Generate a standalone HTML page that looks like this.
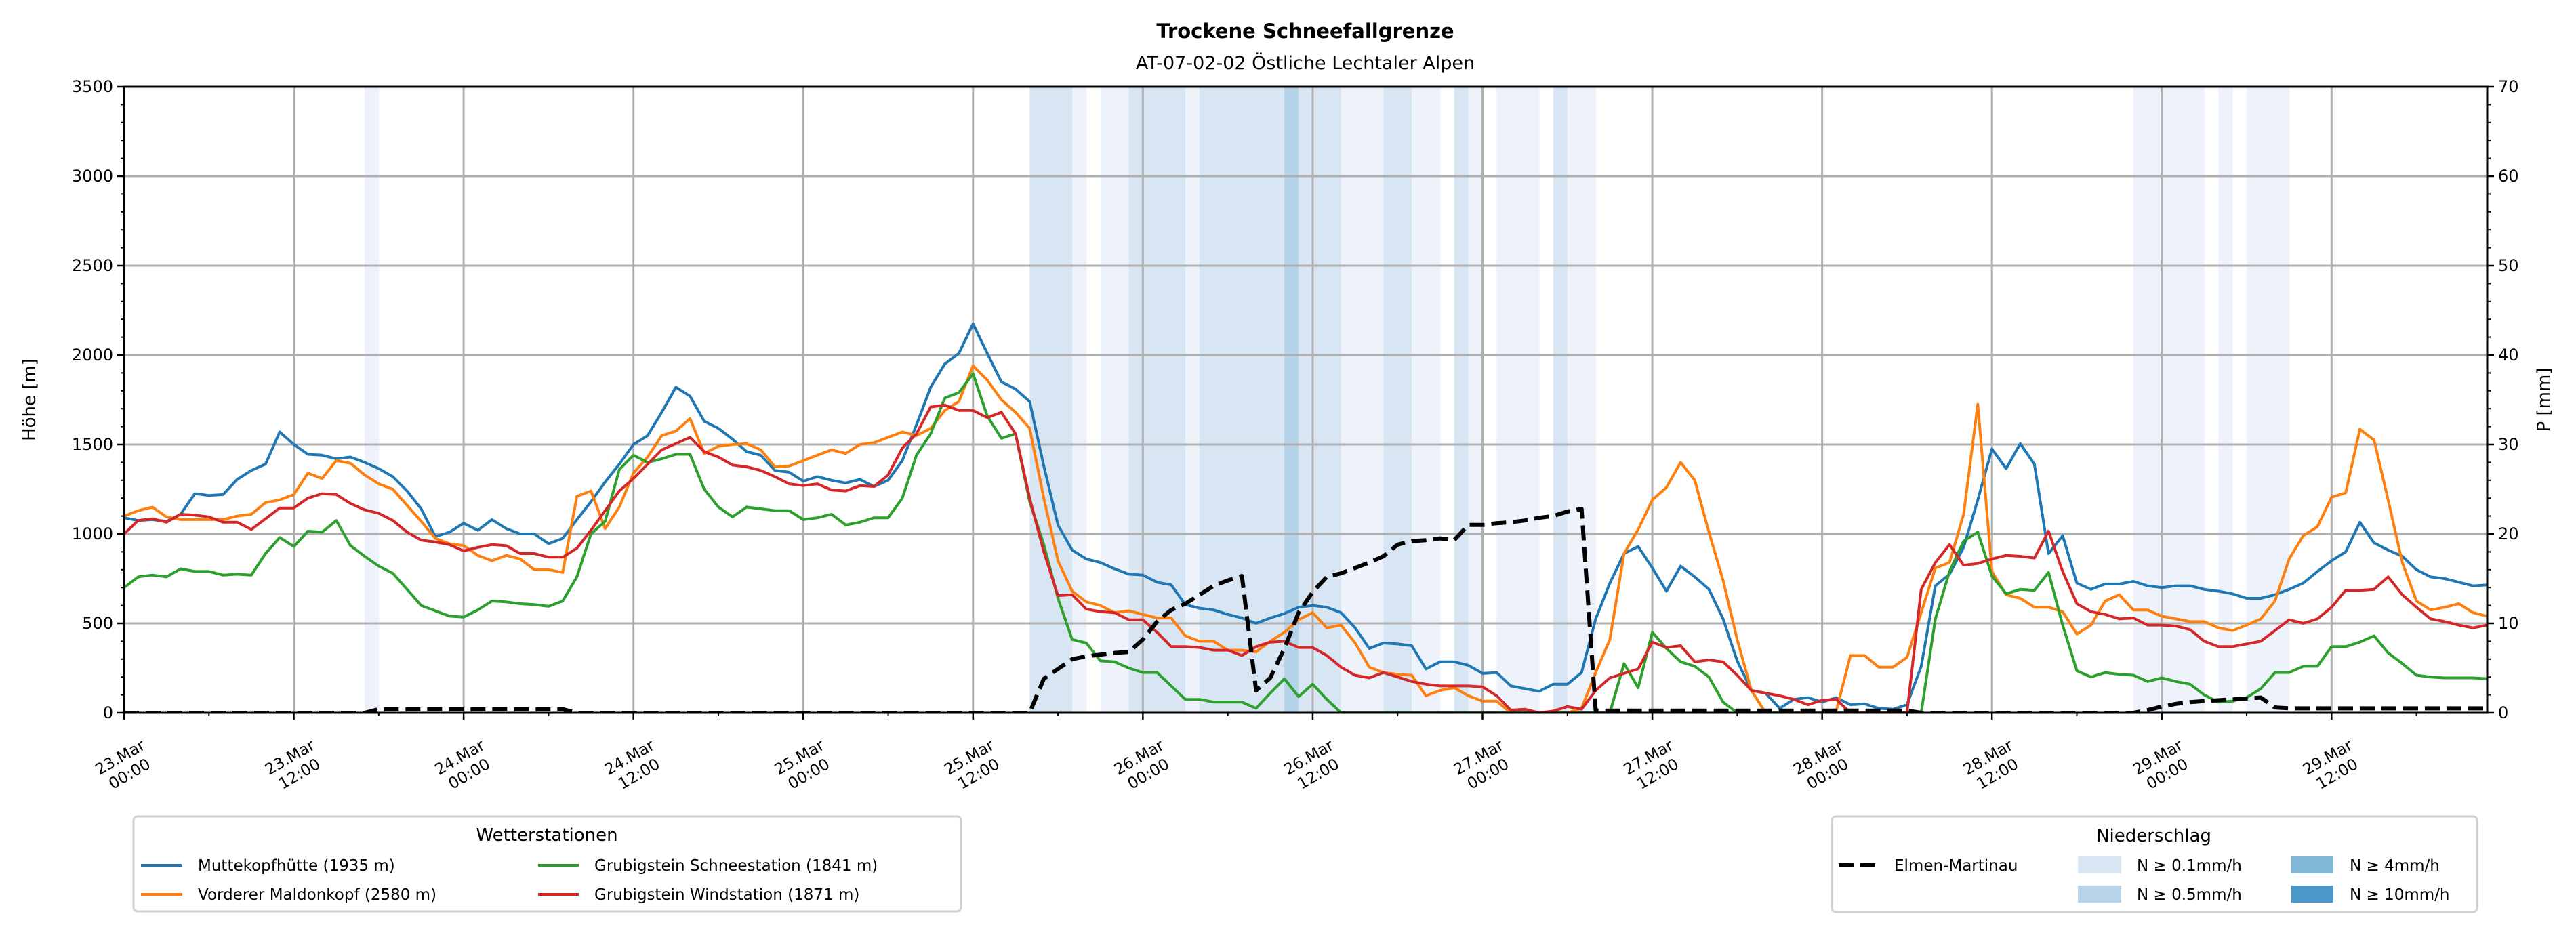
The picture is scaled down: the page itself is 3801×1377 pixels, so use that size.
<!DOCTYPE html>
<html><head><meta charset="utf-8"><style>
html,body{margin:0;padding:0;background:#fff;}
svg{display:block;font-family:"DejaVu Sans","Liberation Sans",sans-serif;}
</style></head><body>
<svg id="chart" xmlns="http://www.w3.org/2000/svg" width="3801" height="1377" viewBox="0 0 3801 1377">
<rect width="3801" height="1377" fill="#fff"/>
<text x="1926" y="56" text-anchor="middle" font-size="29" font-weight="bold">Trockene Schneefallgrenze</text>
<text x="1926" y="102" text-anchor="middle" font-size="27">AT-07-02-02 Östliche Lechtaler Alpen</text>
<defs><clipPath id="plotclip"><rect x="183" y="128" width="3487" height="924"/></clipPath></defs>
<g id="bands" clip-path="url(#plotclip)"></g>
<g id="grid"></g>
<g id="series" clip-path="url(#plotclip)"></g>
<g id="axes"></g>
<text transform="translate(52,590) rotate(-90)" text-anchor="middle" font-size="26">Höhe [m]</text>
<text transform="translate(3762,590) rotate(-90)" text-anchor="middle" font-size="26">P [mm]</text>

<g>
<rect x="197" y="1205" width="1221" height="140" rx="6" fill="#fff" stroke="#d0d0d0" stroke-width="3"/>
<text x="807" y="1241" text-anchor="middle" font-size="26">Wetterstationen</text>
<g><line x1="208" y1="1277" x2="269" y2="1277" stroke="#1f77b4" stroke-width="4"/><text x="292" y="1285" font-size="23">Muttekopfhütte (1935 m)</text></g>
<g><line x1="208" y1="1320" x2="269" y2="1320" stroke="#ff7f0e" stroke-width="4"/><text x="292" y="1328" font-size="23">Vorderer Maldonkopf (2580 m)</text></g>
<g><line x1="794" y1="1277" x2="854" y2="1277" stroke="#2ca02c" stroke-width="4"/><text x="877" y="1285" font-size="23">Grubigstein Schneestation (1841 m)</text></g>
<g><line x1="794" y1="1320" x2="854" y2="1320" stroke="#d62728" stroke-width="4"/><text x="877" y="1328" font-size="23">Grubigstein Windstation (1871 m)</text></g>
</g>

<g>
<rect x="2703" y="1205" width="952" height="141" rx="6" fill="#fff" stroke="#d0d0d0" stroke-width="3"/>
<text x="3178" y="1242" text-anchor="middle" font-size="26">Niederschlag</text>
<g><line x1="2713" y1="1277" x2="2769" y2="1277" stroke="#000" stroke-width="6" stroke-dasharray="22,10"/><text x="2795" y="1285" font-size="23">Elmen-Martinau</text></g>
<g><rect x="3066" y="1264" width="64" height="25" fill="#d8e6f3"/><text x="3153" y="1285" font-size="23">N ≥ 0.1mm/h</text></g>
<g><rect x="3066" y="1307" width="64" height="25" fill="#b8d4ea"/><text x="3153" y="1328" font-size="23">N ≥ 0.5mm/h</text></g>
<g><rect x="3381" y="1264" width="62" height="25" fill="#80b6d8"/><text x="3467" y="1285" font-size="23">N ≥ 4mm/h</text></g>
<g><rect x="3381" y="1307" width="62" height="25" fill="#4a97c9"/><text x="3467" y="1328" font-size="23">N ≥ 10mm/h</text></g>
</g>
</svg>
<script>
const hours = Array.from({length:168},(_, i)=>i);
const blueVals = [1090,1075,1080,1070,1110,1225,1215,1220,1305,1355,1390,1570,1500,1445,1440,1420,1430,1400,1365,1320,1240,1140,985,1010,1060,1020,1080,1030,1000,1000,945,975,1080,1180,1290,1390,1500,1550,1680,1820,1770,1630,1590,1530,1460,1440,1355,1345,1295,1320,1300,1285,1305,1265,1300,1410,1610,1820,1950,2010,2175,2010,1850,1810,1740,1380,1050,910,860,840,805,775,770,730,715,605,585,575,550,530,500,530,555,590,600,590,560,475,360,390,385,375,245,285,285,265,220,225,150,135,120,160,160,225,525,725,890,930,810,680,820,760,690,525,290,125,110,25,75,85,60,85,45,50,25,20,45,260,710,775,925,1190,1475,1365,1505,1390,890,990,725,690,720,720,735,710,700,710,710,690,680,665,640,640,660,690,725,790,850,900,1065,950,910,875,800,760,750,730,710,715];
const orangeVals = [1100,1130,1150,1095,1080,1080,1080,1080,1100,1110,1175,1190,1220,1340,1310,1410,1395,1330,1280,1250,1160,1070,975,945,935,880,850,880,860,800,800,785,1210,1240,1030,1150,1340,1430,1550,1575,1645,1450,1490,1500,1505,1470,1375,1380,1410,1440,1470,1450,1500,1510,1540,1570,1550,1590,1690,1740,1940,1860,1750,1680,1590,1200,850,680,620,600,560,570,550,530,530,430,400,400,350,350,340,400,450,520,560,475,490,390,255,225,215,210,95,125,140,95,65,65,0,0,0,0,0,25,225,410,890,1025,1190,1260,1400,1300,1010,740,410,125,0,0,0,0,0,10,320,320,255,255,310,560,810,840,1110,1725,790,660,640,590,590,565,440,490,625,660,575,575,540,525,510,510,475,460,490,525,625,860,990,1040,1205,1230,1585,1525,1190,840,625,575,590,610,560,540];
const greenVals = [700,760,770,760,805,790,790,770,775,770,890,980,930,1015,1010,1075,935,875,820,780,690,600,570,540,535,575,625,620,610,605,595,625,760,1000,1070,1360,1440,1400,1420,1445,1445,1250,1150,1095,1150,1140,1130,1130,1080,1090,1110,1050,1065,1090,1090,1200,1440,1560,1760,1790,1895,1660,1535,1560,1180,940,640,410,390,290,285,250,225,225,150,75,75,60,60,60,25,110,190,90,160,75,0,0,0,0,0,0,0,0,0,0,0,0,0,0,0,0,0,0,0,0,275,140,450,360,285,260,200,60,0,0,0,0,0,0,0,0,0,0,0,0,0,0,525,790,960,1010,765,665,690,685,785,490,235,200,225,215,210,175,195,175,160,100,60,65,85,135,225,225,260,260,370,370,395,430,335,275,210,200,195,195,195,190];
const redVals = [1000,1075,1085,1065,1110,1105,1095,1065,1065,1025,1085,1145,1145,1200,1225,1220,1170,1135,1115,1075,1010,965,955,940,905,925,940,935,890,890,870,870,920,1020,1130,1240,1310,1390,1470,1505,1540,1460,1430,1385,1375,1355,1320,1280,1270,1280,1245,1240,1270,1265,1330,1480,1560,1710,1720,1690,1690,1650,1680,1560,1200,900,655,660,580,565,560,520,520,450,370,370,365,350,350,320,370,395,400,365,365,320,255,210,195,225,200,175,160,150,150,150,145,95,15,20,0,10,35,20,125,195,220,245,395,365,375,285,295,285,210,125,110,95,75,45,70,75,0,0,0,0,0,690,840,940,825,835,860,880,875,865,1015,790,610,565,550,525,530,490,490,485,465,400,370,370,385,400,460,520,500,525,590,685,685,690,760,660,590,525,510,490,475,490];
const elmenMm = [0,0,0,0,0,0,0,0,0,0,0,0,0,0,0,0,0,0,0.4,0.4,0.4,0.4,0.4,0.4,0.4,0.4,0.4,0.4,0.4,0.4,0.4,0.4,0,0,0,0,0,0,0,0,0,0,0,0,0,0,0,0,0,0,0,0,0,0,0,0,0,0,0,0,0,0,0,0,0,3.8,4.9,6.0,6.3,6.5,6.7,6.8,8.2,10.2,11.5,12.2,13.2,14.2,14.8,15.3,2.5,3.9,7.2,11.2,13.5,15.2,15.6,16.2,16.8,17.5,18.8,19.2,19.3,19.5,19.3,21.0,21.0,21.2,21.3,21.5,21.8,22.0,22.5,22.8,0.25,0.25,0.25,0.25,0.25,0.25,0.25,0.25,0.25,0.25,0.25,0.25,0.25,0.25,0.25,0.25,0.25,0.25,0.25,0.25,0.25,0.25,0.25,0,0,0,0,0,0,0,0,0,0,0,0,0,0,0,0,0.3,0.7,1.0,1.2,1.3,1.4,1.5,1.6,1.7,0.6,0.5,0.5,0.5,0.5,0.5,0.5,0.5,0.5,0.5,0.5,0.5,0.5,0.5,0.5,0.5];
const precipHours = [17,64,65,66,67,69,70,71,72,73,74,75,76,77,78,79,80,81,82,83,84,85,86,87,88,89,90,91,92,94,95,97,98,99,101,102,103,142,143,144,145,146,148,150,151,152];
const precipMm = [0.05,0.3,0.3,0.3,0.05,0.05,0.05,0.3,0.3,0.3,0.3,0.05,0.3,0.3,0.3,0.3,0.3,0.3,0.7,0.3,0.3,0.3,0.05,0.05,0.05,0.3,0.3,0.05,0.05,0.3,0.05,0.05,0.05,0.05,0.3,0.05,0.05,0.05,0.05,0.05,0.05,0.05,0.05,0.05,0.05,0.05];
const yTicks = [0,500,1000,1500,2000,2500,3000,3500];
const y2Ticks = [0,10,20,30,40,50,60,70];
const xTickHours = [0,12,24,36,48,60,72,84,96,108,120,132,144,156];
const xTickDays = ["23.Mar","23.Mar","24.Mar","24.Mar","25.Mar","25.Mar","26.Mar","26.Mar","27.Mar","27.Mar","28.Mar","28.Mar","29.Mar","29.Mar"];
const xTickTimes = ["00:00","12:00","00:00","12:00","00:00","12:00","00:00","12:00","00:00","12:00","00:00","12:00","00:00","12:00"];

const L=183,R=3670,T=128,B=1052,HMAX=167;
const xS=h=>L+h*(R-L)/HMAX;
const yS=m=>B-m*(B-T)/3500;
const y2S=mm=>B-mm*(B-T)/70;
const NS="http://www.w3.org/2000/svg";
function mk(tag,attrs,parent){const e=document.createElementNS(NS,tag);for(const k in attrs)e.setAttribute(k,attrs[k]);parent.appendChild(e);return e;}
function precipColor(v){if(v>=10)return"#4a97c9";if(v>=4)return"#80b6d8";if(v>=0.5)return"#b6d4e9";if(v>=0.1)return"#d8e6f3";return"#eef3fb";}

const gb=document.getElementById('bands');
precipHours.forEach((h,i)=>{
  const r=mk('rect',{x:xS(h),y:T,width:xS(h+1)-xS(h)+0.5,height:B-T,fill:precipColor(precipMm[i])},gb);
  
  
});

const gg=document.getElementById('grid');
yTicks.forEach(v=>{
  const l=mk('line',{x1:L,x2:R,y1:yS(v),y2:yS(v),stroke:"#b0b0b0","stroke-width":3},gg);
  
  
});
xTickHours.forEach(h=>{
  const l=mk('line',{x1:xS(h),x2:xS(h),y1:T,y2:B,stroke:"#b0b0b0","stroke-width":3},gg);
  
  
});

const gs=document.getElementById('series');
function path(vals,sc,color,name,w,dash){
  let d="";vals.forEach((v,i)=>{if(v==null)return;d+=(d?"L":"M")+xS(hours[i]).toFixed(1)+","+sc(v).toFixed(1);});
  const p=mk('path',{d:d,fill:"none",stroke:color,"stroke-width":w,"stroke-linejoin":"round"},gs);
  if(dash)p.setAttribute('stroke-dasharray',dash);
  
  
}
path(blueVals,yS,"#1f77b4","muttekopfhuette-line",4);
path(orangeVals,yS,"#ff7f0e","maldonkopf-line",4);
path(greenVals,yS,"#2ca02c","schneestation-line",4);
path(redVals,yS,"#d62728","windstation-line",4);
path(elmenMm,y2S,"#000","elmen-martinau-line",6,"22,10");

const ga=document.getElementById('axes');
const fr=mk('rect',{x:L,y:T,width:R-L,height:B-T,fill:"none",stroke:"#000","stroke-width":3},ga);


for(let v=0;v<=3500;v+=100){const major=v%500===0;mk('line',{x1:L,x2:L-(major?10:5),y1:yS(v),y2:yS(v),stroke:"#000","stroke-width":major?2.5:2},ga);}
for(let v=0;v<=70;v+=2){const major=v%10===0;mk('line',{x1:R,x2:R+(major?10:5),y1:y2S(v),y2:y2S(v),stroke:"#000","stroke-width":major?2.5:2},ga);}
for(let h=0;h<=HMAX;h+=6){const major=h%12===0;mk('line',{x1:xS(h),x2:xS(h),y1:B,y2:B+(major?10:5),stroke:"#000","stroke-width":major?2.5:2},ga);}
yTicks.forEach(v=>{
  const t=mk('text',{x:L-16,y:yS(v)+8,"text-anchor":"end","font-size":24},ga);
  t.textContent=v;
  
  
});
y2Ticks.forEach(v=>{
  const t=mk('text',{x:R+16,y:y2S(v)+8,"font-size":24},ga);
  t.textContent=v;
  
  
});
xTickHours.forEach((h,i)=>{
  const g=mk('g',{transform:"translate("+xS(h)+",1128) rotate(-30)"},ga);
  
  
  const t1=mk('text',{x:0,y:-4,"text-anchor":"middle","font-size":23},g);t1.textContent=xTickDays[i];
  const t2=mk('text',{x:0,y:24,"text-anchor":"middle","font-size":23},g);t2.textContent=xTickTimes[i];
});
</script>
</body></html>
